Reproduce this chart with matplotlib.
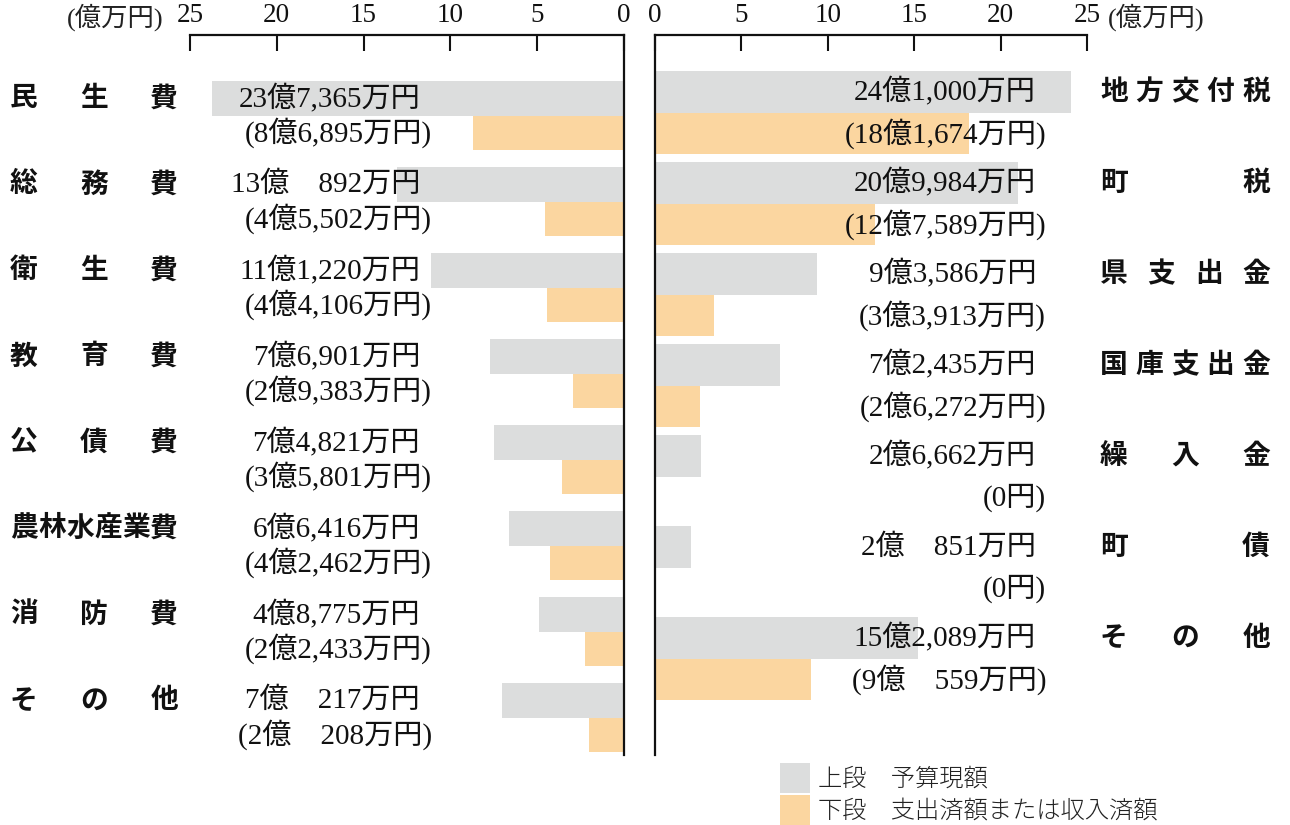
import matplotlib
matplotlib.use("Agg")
import matplotlib.pyplot as plt
from matplotlib.patches import Rectangle
from matplotlib.transforms import blended_transform_factory

# ---------------- data ----------------
exp_cats = ['民生費', '総務費', '衛生費', '教育費', '公債費', '農林水産業費', '消防費', 'その他']
exp_budget = [23.7365, 13.0892, 11.1220, 7.6901, 7.4821, 6.6416, 4.8775, 7.0217]
exp_spent = [8.6895, 4.5502, 4.4106, 2.9383, 3.5801, 4.2462, 2.2433, 2.0208]
exp_budget_lbl = ['23億7,365万円', '13億\u3000892万円', '11億1,220万円', '7億6,901万円',
                  '7億4,821万円', '6億6,416万円', '4億8,775万円', '7億\u3000217万円']
exp_spent_lbl = ['(8億6,895万円)', '(4億5,502万円)', '(4億4,106万円)', '(2億9,383万円)',
                 '(3億5,801万円)', '(4億2,462万円)', '(2億2,433万円)', '(2億\u3000208万円)']

rev_cats = ['地方交付税', '町税', '県支出金', '国庫支出金', '繰入金', '町債', 'その他']
rev_budget = [24.1000, 20.9984, 9.3586, 7.2435, 2.6662, 2.0851, 15.2089]
rev_received = [18.1674, 12.7589, 3.3913, 2.6272, 0.0, 0.0, 9.0559]
rev_budget_lbl = ['24億1,000万円', '20億9,984万円', '9億3,586万円', '7億2,435万円',
                  '2億6,662万円', '2億\u3000851万円', '15億2,089万円']
rev_received_lbl = ['(18億1,674万円)', '(12億7,589万円)', '(3億3,913万円)', '(2億6,272万円)',
                    '(0円)', '(0円)', '(9億\u3000559万円)']

ticks = [0, 5, 10, 15, 20, 25]
unit_lbl = '(億万円)'
legend_lbls = ['上段\u3000予算現額', '下段\u3000支出済額または収入済額']

# ---------------- style ----------------
W, H = 1290, 825
GRAY = '#dcdddd'
ORANGE = '#fbd6a0'
NUM_FONT = ['Liberation Serif', 'Noto Sans CJK JP']
CAT_FONT = ['Noto Sans CJK JP', 'DejaVu Sans']

fig = plt.figure(figsize=(W / 100, H / 100), dpi=100)


def fx(px):
    return px / W


def fy(py):
    return 1 - py / H


def axes_rect(x0, x1, y0, y1):
    return [x0 / W, 1 - y1 / H, (x1 - x0) / W, (y1 - y0) / H]


axL = fig.add_axes(axes_rect(190, 624, 35, 755))
axR = fig.add_axes(axes_rect(655, 1087, 35, 755))

# row geometry (in row units)
L_pitch, L_first = 86.0, 116.0
R_pitch, R_first = 91.0, 113.0
axL.set_ylim((755 - L_first) / L_pitch, (35 - L_first) / L_pitch)
axR.set_ylim((755 - R_first) / R_pitch, (35 - R_first) / R_pitch)
axL.set_xlim(25, 0)
axR.set_xlim(0, 25)

Lg_h, Lo_h = 35 / L_pitch, 34 / L_pitch
Rg_h, Ro_h = 42 / R_pitch, 41 / R_pitch

nL = len(exp_cats)
yL = list(range(nL))
axL.barh([y - Lg_h / 2 for y in yL], exp_budget, height=Lg_h, color=GRAY, linewidth=0)
axL.barh([y + Lo_h / 2 for y in yL], exp_spent, height=Lo_h, color=ORANGE, linewidth=0)

nR = len(rev_cats)
yR = list(range(nR))
axR.barh([y - Rg_h / 2 for y in yR], rev_budget, height=Rg_h, color=GRAY, linewidth=0)
axR.barh([y + Ro_h / 2 for y in yR], rev_received, height=Ro_h, color=ORANGE, linewidth=0)

for ax, side in ((axL, 'right'), (axR, 'left')):
    for s in ('top', 'bottom', 'left', 'right'):
        ax.spines[s].set_visible(s in ('top', side))
        ax.spines[s].set_linewidth(1.6)
        ax.spines[s].set_color('#111111')
    ax.xaxis.tick_top()
    ax.set_xticks(ticks)
    ax.set_xticklabels([str(t) for t in ticks])
    ax.tick_params(axis='x', direction='in', length=11.5, width=1.5, pad=5,
                   colors='#111111', labelsize=19.5)
    for lab in ax.get_xticklabels():
        lab.set_family(NUM_FONT)
    ax.set_yticks([])
    ax.set_facecolor('none')

# unit labels
fig.text(fx(163), fy(17), unit_lbl, ha='right', va='center', fontsize=19,
         family=NUM_FONT, color='#222222')
fig.text(fx(1108), fy(17), unit_lbl, ha='left', va='center', fontsize=19,
         family=NUM_FONT, color='#222222')

trL = blended_transform_factory(fig.transFigure, axL.transData)
trR = blended_transform_factory(fig.transFigure, axR.transData)

VFS = 21
# value labels
for i in yL:
    axL.text(fx(420), i - Lg_h / 2, exp_budget_lbl[i], transform=trL, ha='right', va='center',
             fontsize=VFS, family=NUM_FONT, color='#111111')
    axL.text(fx(432), i + Lo_h / 2, exp_spent_lbl[i], transform=trL, ha='right', va='center',
             fontsize=VFS, family=NUM_FONT, color='#111111')
for i in yR:
    axR.text(fx(1036), i - Rg_h / 2, rev_budget_lbl[i], transform=trR, ha='right', va='center',
             fontsize=VFS, family=NUM_FONT, color='#111111')
    axR.text(fx(1046), i + Ro_h / 2, rev_received_lbl[i], transform=trR, ha='right', va='center',
             fontsize=VFS, family=NUM_FONT, color='#111111')

# category labels (characters distributed over a fixed width)
CW = 27.8


def spread(ax, tr, label, y, x0, x1):
    n = len(label)
    for j, ch in enumerate(label):
        if n == 1:
            cx = x0 + CW / 2
        else:
            cx = x0 + CW / 2 + j * (x1 - x0 - CW) / (n - 1)
        ax.text(fx(cx), y, ch, transform=tr, ha='center', va='center', fontsize=20,
                family=CAT_FONT, weight='bold', color='#111111', clip_on=False)


for i in yL:
    spread(axL, trL, exp_cats[i], i - Lg_h / 2, 10, 178)
for i in yR:
    spread(axR, trR, rev_cats[i], i - Rg_h / 2, 1100, 1270)

# legend (swatches + labels)
for k, (col, lab) in enumerate(zip([GRAY, ORANGE], legend_lbls)):
    top = 763 + 32 * k
    fig.patches.append(Rectangle((fx(780), fy(top + 30)), 30 / W, 30 / H, transform=fig.transFigure,
                                 facecolor=col, edgecolor='none'))
    fig.text(fx(818), fy(top + 16), lab, ha='left', va='center', fontsize=17.5,
             family=['Noto Sans CJK JP'], weight='light', color='#222222')

fig.savefig('out.png', dpi=100)
